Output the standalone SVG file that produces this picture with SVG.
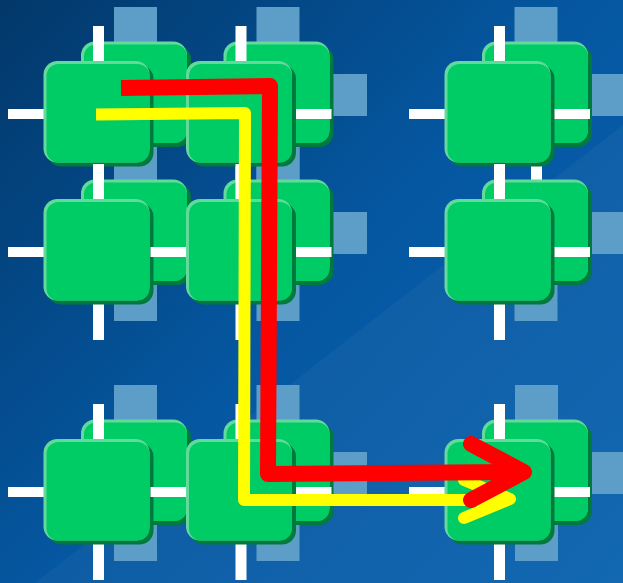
<svg xmlns="http://www.w3.org/2000/svg" xmlns:xlink="http://www.w3.org/1999/xlink" width="623" height="583" viewBox="0 0 623 583">
<style>
.bl{fill:#5d9ec9}
.wh{fill:#ffffff}
.sh{fill:#007a3c}
.hl{fill:#62da9c}
.bd{fill:#00cc66}
.red{fill:none;stroke:#ff0000;stroke-width:16;stroke-linejoin:round}
.yel{fill:none;stroke:#ffff00;stroke-width:12;stroke-linejoin:round}
</style>
<defs>
<linearGradient id="bg" x1="0" y1="0" x2="623" y2="583" gradientUnits="userSpaceOnUse">
<stop offset="0" stop-color="#02386a"/>
<stop offset="0.5" stop-color="#0557a1"/>
<stop offset="1" stop-color="#0a62af"/>
</linearGradient>
<g id="sq">
<rect x="4" y="4" width="106" height="101.5" rx="14" class="sh"/>
<rect x="0" y="0" width="106" height="101.5" rx="14" class="hl"/>
<rect x="3" y="3" width="103" height="98.5" rx="12" class="bd"/>
</g>
<g id="wx" class="wh">
<rect x="-5.5" y="-88" width="11" height="176"/>
<rect x="-90.5" y="-5" width="181" height="10"/>
</g>
<g id="bx" class="bl">
<rect x="-21.5" y="-88" width="43" height="176"/>
<rect x="-89" y="-21" width="178" height="42"/>
</g>
</defs>
<rect width="623" height="583" fill="url(#bg)"/>
<polygon points="35,583 623,125 623,583" fill="#ffffff" opacity="0.04"/>
<g id="backplates">
<use xlink:href="#bx" x="135.5" y="95"/>
<use xlink:href="#bx" x="135.5" y="233"/>
<use xlink:href="#bx" x="135.5" y="473"/>
<use xlink:href="#bx" x="278" y="95"/>
<use xlink:href="#bx" x="278" y="233"/>
<use xlink:href="#bx" x="278" y="473"/>
<rect class="bl" x="514.5" y="7" width="43" height="70"/>
<rect class="bl" x="447.5" y="74" width="178" height="42"/>
<rect class="wh" x="531" y="140" width="11" height="43"/>
<rect class="bl" x="514.5" y="233" width="43" height="88"/>
<rect class="bl" x="447.5" y="212" width="178" height="42"/>
<use xlink:href="#bx" x="536.5" y="473"/>
</g>
<g id="n-c1r1"><use xlink:href="#sq" x="81" y="41.5"/><use xlink:href="#wx" x="98.5" y="114"/><use xlink:href="#sq" x="43.5" y="61"/></g>
<g id="n-c1r2"><use xlink:href="#sq" x="81" y="179.5"/><use xlink:href="#wx" x="98.5" y="252"/><use xlink:href="#sq" x="43.5" y="199"/></g>
<g id="n-c1r3"><use xlink:href="#sq" x="81" y="419.5"/><use xlink:href="#wx" x="98.5" y="492"/><use xlink:href="#sq" x="43.5" y="439"/></g>
<g id="n-c2r1"><use xlink:href="#sq" x="223.5" y="41.5"/><use xlink:href="#wx" x="241" y="114"/><use xlink:href="#sq" x="186" y="61"/></g>
<g id="n-c2r2"><use xlink:href="#sq" x="223.5" y="179.5"/><use xlink:href="#wx" x="241" y="252"/><use xlink:href="#sq" x="186" y="199"/></g>
<g id="n-c2r3"><use xlink:href="#sq" x="223.5" y="419.5"/><use xlink:href="#wx" x="241" y="492"/><use xlink:href="#sq" x="186" y="439"/></g>
<g id="n-c3r1"><use xlink:href="#sq" x="482" y="41.5"/><use xlink:href="#wx" x="499.5" y="114"/><use xlink:href="#sq" x="444.5" y="61"/></g>
<g id="n-c3r2"><use xlink:href="#sq" x="482" y="179.5"/><use xlink:href="#wx" x="499.5" y="252"/><use xlink:href="#sq" x="444.5" y="199"/></g>
<g id="n-c3r3"><use xlink:href="#sq" x="482" y="419.5"/><use xlink:href="#wx" x="499.5" y="492"/><use xlink:href="#sq" x="444.5" y="439"/></g>
<g id="connectors">
<polyline class="yel" points="96,114.5 245,113 244,500 508,500"/>
<polyline class="yel" points="464,480 510,499 464,518" stroke-linecap="round" stroke-linejoin="miter"/>
<polyline class="red" points="121,88 270,86 268,474 522,472"/>
<polyline class="red" points="471,444 524,472 471,500" stroke-linecap="round" stroke-linejoin="miter"/>
</g>
</svg>
